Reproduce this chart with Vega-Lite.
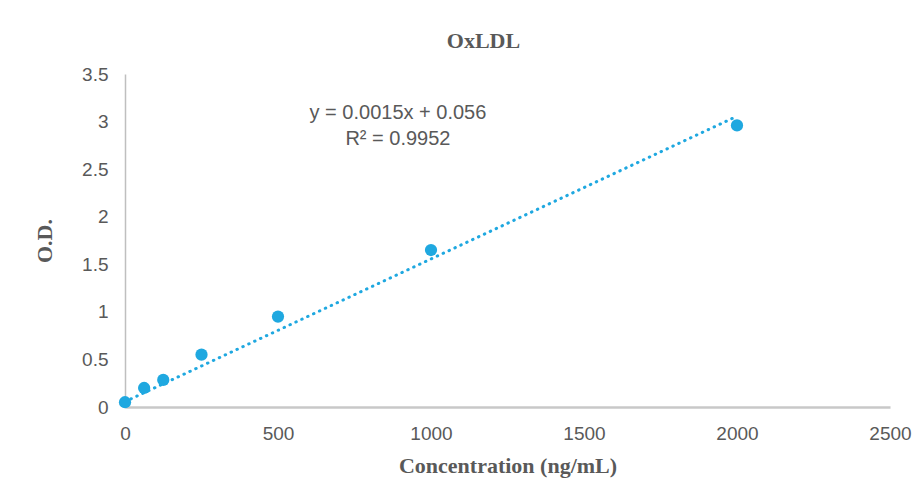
{
  "$schema": "https://vega.github.io/schema/vega-lite/v6.json",
  "width": 765,
  "height": 333,
  "autosize": "none",
  "padding": {"left": 125, "top": 74, "right": 28, "bottom": 84},
  "background": "white",
  "config": {
    "view": {"stroke": null},
    "axis": {
      "grid": false,
      "ticks": false,
      "labelFlush": false,
      "domainColor": "#BFBFBF",
      "labelFont": "Liberation Sans",
      "labelFontSize": 19,
      "labelColor": "#595959",
      "titleFont": "Liberation Serif",
      "titleFontSize": 22,
      "titleFontWeight": "bold",
      "titleColor": "#595959"
    }
  },
  "title": {
    "text": "OxLDL",
    "font": "Liberation Serif",
    "fontSize": 22,
    "fontWeight": "bold",
    "color": "#595959",
    "anchor": "middle",
    "dx": -24,
    "offset": 12
  },
  "datasets": {
    "points": [
      {"conc": 0, "od": 0.05},
      {"conc": 62.5, "od": 0.2},
      {"conc": 125, "od": 0.285},
      {"conc": 250, "od": 0.55},
      {"conc": 500, "od": 0.95},
      {"conc": 1000, "od": 1.65},
      {"conc": 2000, "od": 2.96}
    ],
    "trend": [
      {"conc": 0, "od": 0.056},
      {"conc": 2000, "od": 3.056}
    ],
    "labels": [
      {"conc": 892, "od": 3.09, "text": "y = 0.0015x + 0.056"},
      {"conc": 892, "od": 2.82, "text": "R² = 0.9952"}
    ]
  },
  "layer": [
    {
      "data": {"name": "trend"},
      "mark": {"type": "line", "color": "#1FA8E0", "strokeWidth": 3, "strokeDash": [0.5, 6], "strokeCap": "round"},
      "encoding": {
        "x": {"field": "conc", "type": "quantitative", "scale": {"domain": [0, 2500], "nice": false},
          "axis": {"values": [0, 500, 1000, 1500, 2000, 2500], "format": "d", "title": "Concentration (ng/mL)", "labelPadding": 17, "titlePadding": 12, "domainWidth": 2.5, "domainColor": "#C8C8C8"}},
        "y": {"field": "od", "type": "quantitative", "scale": {"domain": [0, 3.5], "nice": false},
          "axis": {"values": [0, 0.5, 1, 1.5, 2, 2.5, 3, 3.5], "format": "~g", "title": "O.D.", "labelPadding": 17, "titlePadding": 25, "domainWidth": 1.5}}
      }
    },
    {
      "data": {"name": "points"},
      "mark": {"type": "circle", "color": "#1FA8E0", "opacity": 1, "size": 150},
      "encoding": {
        "x": {"field": "conc", "type": "quantitative"},
        "y": {"field": "od", "type": "quantitative"}
      }
    },
    {
      "data": {"name": "labels"},
      "mark": {"type": "text", "font": "Liberation Sans", "fontSize": 20, "color": "#595959", "align": "center", "baseline": "middle"},
      "encoding": {
        "x": {"field": "conc", "type": "quantitative"},
        "y": {"field": "od", "type": "quantitative"},
        "text": {"field": "text"}
      }
    }
  ]
}
